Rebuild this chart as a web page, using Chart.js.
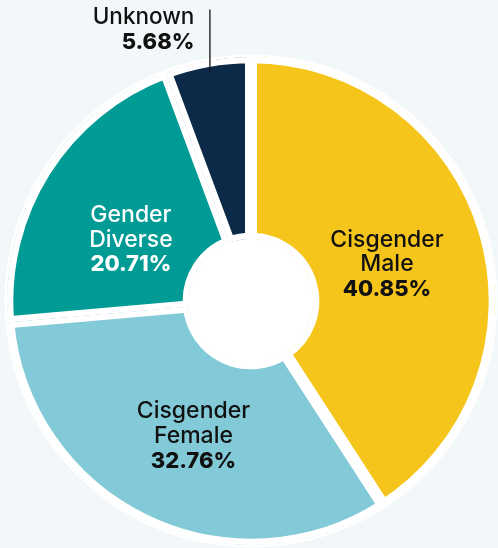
<!DOCTYPE html>
<html>
<head>
<meta charset="utf-8">
<script src="https://cdn.jsdelivr.net/npm/chart.js@4/dist/chart.umd.min.js"></script>
<style>
  html, body { margin: 0; padding: 0; background: #F2F8FA; }
  #wrap { position: relative; width: 498px; height: 548px; }
</style>
</head>
<body>
<div id="wrap"><canvas id="c"></canvas></div>
<script>
const categories = ['Cisgender Male', 'Cisgender Female', 'Gender Diverse', 'Unknown'];
const labelLines = [['Cisgender', 'Male'], ['Cisgender', 'Female'], ['Gender', 'Diverse'], ['Unknown']];
const shares = [40.85, 32.76, 20.71, 5.68];
const sliceColors = ['#F5C51C', '#82CAD7', '#009B95', '#0C2A47'];
const textColors = ['#111111', '#111111', '#FFFFFF', '#111111'];
const outsideLabel = [false, false, false, true];
// small label nudges (px) relative to the computed anchor of each slice
const labelNudgeX = [1.5, 4, -1.5, 0];
const labelNudgeY = [2, 8, 12.5, 0];

const FONT = 'Inter, "Noto Sans", sans-serif';

const whiteDisc = {
  id: 'whiteDisc',
  beforeDatasetsDraw(chart) {
    const arc = chart.getDatasetMeta(0).data[0];
    if (!arc) return;
    const ctx = chart.ctx;
    ctx.save();
    ctx.fillStyle = '#FFFFFF';
    ctx.beginPath();
    ctx.arc(arc.x, arc.y, arc.outerRadius + 2.5, 0, Math.PI * 2);
    ctx.fill();
    ctx.restore();
  }
};

const sliceLabels = {
  id: 'sliceLabels',
  afterDatasetsDraw(chart) {
    const ctx = chart.ctx;
    const meta = chart.getDatasetMeta(0);
    const lh = 24.6;
    meta.data.forEach((arc, i) => {
      const mid = (arc.startAngle + arc.endAngle) / 2;
      const lines = labelLines[i];
      const pct = shares[i].toFixed(2) + '%';
      ctx.save();
      ctx.fillStyle = textColors[i];
      ctx.textBaseline = 'alphabetic';
      if (!outsideLabel[i]) {
        const r = arc.innerRadius + 0.43 * (arc.outerRadius - arc.innerRadius);
        const px = arc.x + r * Math.cos(mid) + labelNudgeX[i];
        const py = arc.y + r * Math.sin(mid) + labelNudgeY[i];
        const all = lines.length + 1;
        const baseMid = py + 8;
        ctx.textAlign = 'center';
        lines.forEach((t, k) => {
          ctx.font = '500 23px ' + FONT;
          ctx.fillText(t, px, baseMid + (k - (all - 1) / 2) * lh);
        });
        ctx.font = '800 22px ' + FONT;
        ctx.fillText(pct, px, baseMid + (lines.length - (all - 1) / 2) * lh);
      } else {
        const r0 = arc.outerRadius - 12.5;
        const lx = arc.x + r0 * Math.cos(mid);
        const ly = arc.y + r0 * Math.sin(mid);
        const topY = arc.y - arc.outerRadius - 47.5;
        ctx.strokeStyle = '#111111';
        ctx.lineWidth = 1.3;
        ctx.beginPath();
        ctx.moveTo(lx, ly);
        ctx.lineTo(lx, topY);
        ctx.stroke();
        ctx.textAlign = 'right';
        ctx.font = '500 22.5px ' + FONT;
        ctx.fillText(lines[0], lx - 15.5, topY + 14);
        ctx.font = '800 22px ' + FONT;
        ctx.fillText(pct, lx - 15.5, topY + 39);
      }
      ctx.restore();
    });
  }
};

new Chart(document.getElementById('c'), {
  type: 'doughnut',
  data: {
    labels: categories,
    datasets: [{
      data: shares,
      backgroundColor: sliceColors,
      borderColor: '#FFFFFF',
      borderWidth: 6,
      borderAlign: 'inner',
      borderJoinStyle: 'miter',
      hoverOffset: 0
    }]
  },
  options: {
    responsive: true,
    maintainAspectRatio: false,
    animation: false,
    events: [],
    cutout: '25.4%',
    layout: { padding: { left: 7, right: 3, top: 57, bottom: 3 } },
    plugins: {
      legend: { display: false },
      tooltip: { enabled: false }
    }
  },
  plugins: [whiteDisc, sliceLabels]
});
</script>
</body>
</html>
